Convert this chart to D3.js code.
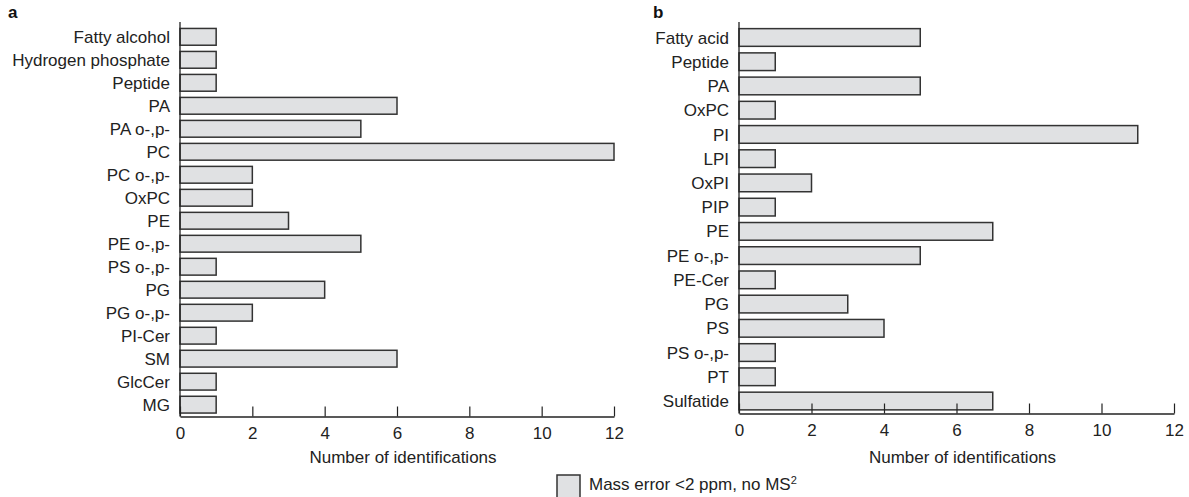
<!DOCTYPE html>
<html><head><meta charset="utf-8">
<script src="https://cdn.jsdelivr.net/npm/d3@7"></script>
<style>body{margin:0;background:#fff}text{font-family:"Liberation Sans",Arial,sans-serif}</style>
</head><body><svg id="c" width="1189" height="497"></svg>
<script>
const catsA = ["Fatty alcohol","Hydrogen phosphate","Peptide","PA","PA o-,p-","PC","PC o-,p-","OxPC","PE","PE o-,p-","PS o-,p-","PG","PG o-,p-","PI-Cer","SM","GlcCer","MG"];
const valsA = [1,1,1,6,5,12,2,2,3,5,1,4,2,1,6,1,1];
const catsB = ["Fatty acid","Peptide","PA","OxPC","PI","LPI","OxPI","PIP","PE","PE o-,p-","PE-Cer","PG","PS","PS o-,p-","PT","Sulfatide"];
const valsB = [5,1,5,1,11,1,2,1,7,5,1,3,4,1,1,7];
const xTicks = [0,2,4,6,8,10,12];
const xTitle = "Number of identifications";
const FS = 17;

const svg = d3.select("#c");
function panel(cats, vals, x0, x1, yTop, yBot, letter, letterX) {
  const x = d3.scaleLinear().domain([0,12]).range([x0,x1]);
  const y = d3.scaleBand().domain(cats).range([yTop, yBot]).paddingInner(0.27).paddingOuter(0.15);
  const g = svg.append("g");
  g.selectAll("rect").data(cats).join("rect")
    .attr("x", x(0)).attr("y", d => y(d))
    .attr("width", (d,i) => x(vals[i]) - x(0)).attr("height", y.bandwidth())
    .attr("fill", "#e0e1e3").attr("stroke", "#333").attr("stroke-width", 1.5);
  const ax = g.append("g").attr("transform", `translate(0,${yBot})`)
    .call(d3.axisBottom(x).tickValues(xTicks).tickSizeInner(-10).tickSizeOuter(0).tickPadding(10));
  ax.select(".domain").attr("stroke", "#222").attr("stroke-width", 1.3);
  ax.selectAll(".tick line").attr("stroke", "#222").attr("stroke-width", 1.2);
  ax.selectAll(".tick text").attr("font-size", FS).attr("fill", "#222")
    .attr("font-family", '"Liberation Sans",Arial,sans-serif');
  g.append("line").attr("x1", x(0)).attr("x2", x(0)).attr("y1", yTop - 3).attr("y2", yBot)
    .attr("stroke", "#222").attr("stroke-width", 1.3);
  g.selectAll("text.lab").data(cats).join("text").attr("class","lab")
    .attr("x", x(0) - 10).attr("y", d => y(d) + y.bandwidth()/2)
    .attr("dy", "0.36em").attr("text-anchor", "end").attr("font-size", FS).attr("fill", "#222")
    .text(d => d);
  g.append("text").attr("x", (x0+x1)/2 + 6).attr("y", 463).attr("text-anchor","middle")
    .attr("font-size", FS).attr("fill", "#222").text(xTitle);
  g.append("text").attr("x", letterX).attr("y", 18).attr("font-size", 17).attr("font-weight","bold")
    .attr("fill","#111").text(letter);
}
panel(catsA, valsA, 180, 614, 25, 416.5, "a", 8);
panel(catsB, valsB, 739, 1174, 25, 413.5, "b", 653);

svg.append("rect").attr("x", 557).attr("y", 475).attr("width", 23).attr("height", 24)
  .attr("fill", "#e0e1e3").attr("stroke", "#333").attr("stroke-width", 1.5);
const lt = svg.append("text").attr("x", 589).attr("y", 490).attr("font-size", 17).attr("fill","#222");
lt.append("tspan").text("Mass error <2 ppm, no MS");
lt.append("tspan").attr("font-size", 11).attr("dy", -6).text("2");
</script></body></html>
